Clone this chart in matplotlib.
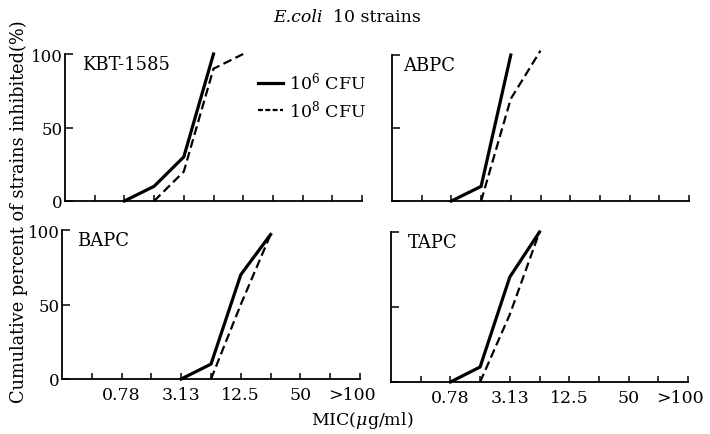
import matplotlib
matplotlib.use("Agg")
import matplotlib.pyplot as plt
from matplotlib.lines import Line2D
from matplotlib.transforms import ScaledTranslation

plt.rcParams['font.family'] = ['DejaVu Serif']
plt.rcParams['mathtext.fontset'] = 'dejavuserif'

# MIC dilution steps (axis positions 0..10)
mic_steps = ["0.2", "0.39", "0.78", "1.56", "3.13", "6.25", "12.5", "25", "50", "100", ">100"]
tick_labels = ["0.78", "3.13", "12.5", "50", ">100"]

# Cumulative percent of strains inhibited
kbt_1e6_mic = ["0.78", "1.56", "3.13", "6.25"]
kbt_1e6_val = [0, 10, 30, 100]
kbt_1e8_mic = ["1.56", "3.13", "6.25", "12.5"]
kbt_1e8_val = [0, 20, 90, 100]

abpc_1e6_mic = ["0.78", "1.56", "3.13"]
abpc_1e6_val = [0, 10, 100]
abpc_1e8_mic = ["1.56", "3.13", "6.25"]
abpc_1e8_val = [0, 70, 103]

bapc_1e6_mic = ["3.13", "6.25", "12.5", "25"]
bapc_1e6_val = [0, 10, 70, 97]
bapc_1e8_mic = ["6.25", "12.5", "25"]
bapc_1e8_val = [0, 50, 97]

tapc_1e6_mic = ["0.78", "1.56", "3.13", "6.25"]
tapc_1e6_val = [0, 10, 70, 100]
tapc_1e8_mic = ["1.56", "3.13", "6.25"]
tapc_1e8_val = [0, 45, 100]

panels = [
    ("KBT-1585", kbt_1e6_mic, kbt_1e6_val, kbt_1e8_mic, kbt_1e8_val, (65, 362, 202, 55), True, False, 17),
    ("ABPC", abpc_1e6_mic, abpc_1e6_val, abpc_1e8_mic, abpc_1e8_val, (392, 689, 202, 56), False, False, 11),
    ("BAPC", bapc_1e6_mic, bapc_1e6_val, bapc_1e8_mic, bapc_1e8_val, (62, 360, 380, 231), True, True, 15),
    ("TAPC", tapc_1e6_mic, tapc_1e6_val, tapc_1e8_mic, tapc_1e8_val, (391, 688, 383, 233), False, True, 17),
]

W, H = 710, 435
fig = plt.figure(figsize=(W / 100, H / 100), dpi=100)

def pos(lst):
    return [mic_steps.index(m) for m in lst]

for name, m6, v6, m8, v8, (x0, x1, yb, yt), ylab, xlab, off in panels:
    ax = fig.add_axes([x0 / W, 1 - yb / H, (x1 - x0) / W, (yb - yt) / H])
    ax.set_xlim(0, 10)
    ax.set_ylim(0, 100)
    for s in ("top", "right"):
        ax.spines[s].set_visible(False)
    for s in ("left", "bottom"):
        ax.spines[s].set_linewidth(1.3)
        ax.spines[s].set_color("black")
    ax.set_xticks(range(1, 11))
    ax.set_xticklabels(["" if i % 2 else tick_labels[i // 2 - 1] for i in range(1, 11)] if xlab else [""] * 10)
    ax.set_yticks([0, 50, 100])
    ax.set_yticklabels(["0", "50", "100"] if ylab else ["", "", ""])
    ax.tick_params(axis="x", direction="in", length=4.5, width=1.1, pad=5, labelsize=12.5)
    ax.tick_params(axis="y", direction="in", length=5.5, width=1.1, pad=1.5, labelsize=12)
    if xlab:
        last = ax.get_xticklabels()[-1]
        last.set_transform(last.get_transform() + ScaledTranslation(-8 / 100, 0, fig.dpi_scale_trans))
    ax.patch.set_visible(False)
    ax.plot(pos(m6), v6, color="black", lw=2.3, clip_on=False, solid_joinstyle="miter")
    ax.plot(pos(m8), v8, color="black", lw=1.6, dashes=(4, 2), clip_on=False)
    ax.text((x0 + off) / W, 1 - (yt + 1) / H, name, transform=fig.transFigure,
            ha="left", va="top", fontsize=13)

fig.legend([Line2D([], [], color="black", lw=2.3), Line2D([], [], color="black", lw=1.6, dashes=(2.2, 1.1))],
           ["10$^6$ CFU", "10$^8$ CFU"], loc="upper left",
           bbox_to_anchor=(258 / W, 1 - 72 / H), frameon=False, fontsize=12.5,
           handlelength=1.45, handletextpad=0.35, labelspacing=0.3, borderpad=0, borderaxespad=0)

fig.text(273 / W, 1 - 18 / H, "E.coli", fontsize=12.5, style="italic", ha="left", va="center")
fig.text(333 / W, 1 - 18 / H, "10 strains", fontsize=12.5, ha="left", va="center")
fig.text(19 / W, 1 - 212 / H, "Cumulative percent of strains inhibited(%)", rotation=90,
         fontsize=12.8, ha="center", va="center")
fig.text(362 / W, 1 - 421 / H, "MIC($\\mu$g/ml)", fontsize=12.5, ha="center", va="center")

fig.savefig("out.png", dpi=100, facecolor="white")
